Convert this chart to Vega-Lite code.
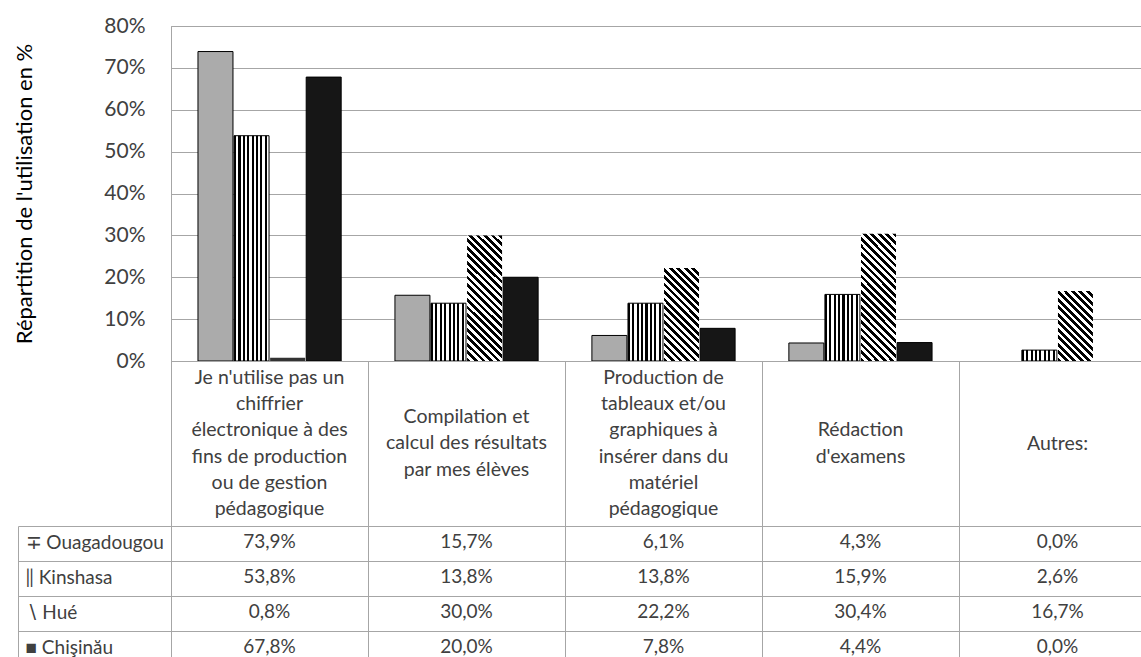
{
  "$schema": "https://vega.github.io/schema/vega-lite/v6.json",
  "background": "white",
  "padding": {"left": 13, "top": 14, "right": 0, "bottom": 0},
  "bounds": "flush",
  "spacing": 0,
  "config": {
    "locale": {"number": {"decimal": ",", "thousands": " ", "grouping": [3], "currency": ["", " €"]}},
    "font": "Lato",
    "view": {"stroke": "#a6a6a6", "strokeWidth": 1}
  },
  "datasets": {
    "vals": [
      {"cat": "Je n'utilise pas un\nchiffrier\nélectronique à des\nfins de production\nou de gestion\npédagogique", "city": "Ouagadougou", "v": 0.739},
      {"cat": "Je n'utilise pas un\nchiffrier\nélectronique à des\nfins de production\nou de gestion\npédagogique", "city": "Kinshasa", "v": 0.538},
      {"cat": "Je n'utilise pas un\nchiffrier\nélectronique à des\nfins de production\nou de gestion\npédagogique", "city": "Hué", "v": 0.008},
      {"cat": "Je n'utilise pas un\nchiffrier\nélectronique à des\nfins de production\nou de gestion\npédagogique", "city": "Chişinău", "v": 0.678},
      {"cat": "Compilation et\ncalcul des résultats\npar mes élèves", "city": "Ouagadougou", "v": 0.157},
      {"cat": "Compilation et\ncalcul des résultats\npar mes élèves", "city": "Kinshasa", "v": 0.138},
      {"cat": "Compilation et\ncalcul des résultats\npar mes élèves", "city": "Hué", "v": 0.300},
      {"cat": "Compilation et\ncalcul des résultats\npar mes élèves", "city": "Chişinău", "v": 0.200},
      {"cat": "Production de\ntableaux et/ou\ngraphiques à\ninsérer dans du\nmatériel\npédagogique", "city": "Ouagadougou", "v": 0.061},
      {"cat": "Production de\ntableaux et/ou\ngraphiques à\ninsérer dans du\nmatériel\npédagogique", "city": "Kinshasa", "v": 0.138},
      {"cat": "Production de\ntableaux et/ou\ngraphiques à\ninsérer dans du\nmatériel\npédagogique", "city": "Hué", "v": 0.222},
      {"cat": "Production de\ntableaux et/ou\ngraphiques à\ninsérer dans du\nmatériel\npédagogique", "city": "Chişinău", "v": 0.078},
      {"cat": "Rédaction\nd'examens", "city": "Ouagadougou", "v": 0.043},
      {"cat": "Rédaction\nd'examens", "city": "Kinshasa", "v": 0.159},
      {"cat": "Rédaction\nd'examens", "city": "Hué", "v": 0.304},
      {"cat": "Rédaction\nd'examens", "city": "Chişinău", "v": 0.044},
      {"cat": "Autres:", "city": "Ouagadougou", "v": 0.0},
      {"cat": "Autres:", "city": "Kinshasa", "v": 0.026},
      {"cat": "Autres:", "city": "Hué", "v": 0.167},
      {"cat": "Autres:", "city": "Chişinău", "v": 0.0}
    ]
  },
  "vconcat": [
    {
      "width": 985,
      "height": 335,
      "data": {"name": "vals"},
      "mark": {"type": "bar", "strokeWidth": 1},
      "encoding": {
        "x": {"field": "cat", "type": "nominal", "sort": null, "scale": {"paddingInner": 0.273, "paddingOuter": 0.137}, "axis": null},
        "xOffset": {"field": "city", "type": "nominal", "sort": ["Ouagadougou", "Kinshasa", "Hué", "Chişinău"], "scale": {"paddingInner": 0.03, "paddingOuter": 0}},
        "y": {
          "field": "v", "type": "quantitative",
          "scale": {"domain": [0, 0.8]},
          "axis": {
            "values": [0, 0.1, 0.2, 0.3, 0.4, 0.5, 0.6, 0.7, 0.8],
            "format": ".0%",
            "title": "Répartition de l'utilisation en %",
            "grid": true, "gridColor": "#a6a6a6", "gridWidth": 1,
            "domain": true, "domainColor": "#a6a6a6",
            "ticks": false,
            "labelPadding": 26, "labelFontSize": 21, "labelColor": "#404040",
            "titleFontSize": 22, "titleFontWeight": "normal", "titleColor": "#000000", "titlePadding": 67
          }
        },
        "fill": {
          "condition": [
            {"test": "datum.city === 'Hué' && datum.v >= 0.25", "value": {"gradient": "linear", "x1": 0, "y1": 1, "x2": 0.366, "y2": -0.322, "stops": [
              {"offset": 0, "color": "#000"}, {"offset": 0.0208, "color": "#000"}, {"offset": 0.0208, "color": "#fff"}, {"offset": 0.0417, "color": "#fff"},
              {"offset": 0.0417, "color": "#000"}, {"offset": 0.0625, "color": "#000"}, {"offset": 0.0625, "color": "#fff"}, {"offset": 0.0833, "color": "#fff"},
              {"offset": 0.0833, "color": "#000"}, {"offset": 0.1042, "color": "#000"}, {"offset": 0.1042, "color": "#fff"}, {"offset": 0.125, "color": "#fff"},
              {"offset": 0.125, "color": "#000"}, {"offset": 0.1458, "color": "#000"}, {"offset": 0.1458, "color": "#fff"}, {"offset": 0.1667, "color": "#fff"},
              {"offset": 0.1667, "color": "#000"}, {"offset": 0.1875, "color": "#000"}, {"offset": 0.1875, "color": "#fff"}, {"offset": 0.2083, "color": "#fff"},
              {"offset": 0.2083, "color": "#000"}, {"offset": 0.2292, "color": "#000"}, {"offset": 0.2292, "color": "#fff"}, {"offset": 0.25, "color": "#fff"},
              {"offset": 0.25, "color": "#000"}, {"offset": 0.2708, "color": "#000"}, {"offset": 0.2708, "color": "#fff"}, {"offset": 0.2917, "color": "#fff"},
              {"offset": 0.2917, "color": "#000"}, {"offset": 0.3125, "color": "#000"}, {"offset": 0.3125, "color": "#fff"}, {"offset": 0.3333, "color": "#fff"},
              {"offset": 0.3333, "color": "#000"}, {"offset": 0.3542, "color": "#000"}, {"offset": 0.3542, "color": "#fff"}, {"offset": 0.375, "color": "#fff"},
              {"offset": 0.375, "color": "#000"}, {"offset": 0.3958, "color": "#000"}, {"offset": 0.3958, "color": "#fff"}, {"offset": 0.4167, "color": "#fff"},
              {"offset": 0.4167, "color": "#000"}, {"offset": 0.4375, "color": "#000"}, {"offset": 0.4375, "color": "#fff"}, {"offset": 0.4583, "color": "#fff"},
              {"offset": 0.4583, "color": "#000"}, {"offset": 0.4792, "color": "#000"}, {"offset": 0.4792, "color": "#fff"}, {"offset": 0.5, "color": "#fff"},
              {"offset": 0.5, "color": "#000"}, {"offset": 0.5208, "color": "#000"}, {"offset": 0.5208, "color": "#fff"}, {"offset": 0.5417, "color": "#fff"},
              {"offset": 0.5417, "color": "#000"}, {"offset": 0.5625, "color": "#000"}, {"offset": 0.5625, "color": "#fff"}, {"offset": 0.5833, "color": "#fff"},
              {"offset": 0.5833, "color": "#000"}, {"offset": 0.6042, "color": "#000"}, {"offset": 0.6042, "color": "#fff"}, {"offset": 0.625, "color": "#fff"},
              {"offset": 0.625, "color": "#000"}, {"offset": 0.6458, "color": "#000"}, {"offset": 0.6458, "color": "#fff"}, {"offset": 0.6667, "color": "#fff"},
              {"offset": 0.6667, "color": "#000"}, {"offset": 0.6875, "color": "#000"}, {"offset": 0.6875, "color": "#fff"}, {"offset": 0.7083, "color": "#fff"},
              {"offset": 0.7083, "color": "#000"}, {"offset": 0.7292, "color": "#000"}, {"offset": 0.7292, "color": "#fff"}, {"offset": 0.75, "color": "#fff"},
              {"offset": 0.75, "color": "#000"}, {"offset": 0.7708, "color": "#000"}, {"offset": 0.7708, "color": "#fff"}, {"offset": 0.7917, "color": "#fff"},
              {"offset": 0.7917, "color": "#000"}, {"offset": 0.8125, "color": "#000"}, {"offset": 0.8125, "color": "#fff"}, {"offset": 0.8333, "color": "#fff"},
              {"offset": 0.8333, "color": "#000"}, {"offset": 0.8542, "color": "#000"}, {"offset": 0.8542, "color": "#fff"}, {"offset": 0.875, "color": "#fff"},
              {"offset": 0.875, "color": "#000"}, {"offset": 0.8958, "color": "#000"}, {"offset": 0.8958, "color": "#fff"}, {"offset": 0.9167, "color": "#fff"},
              {"offset": 0.9167, "color": "#000"}, {"offset": 0.9375, "color": "#000"}, {"offset": 0.9375, "color": "#fff"}, {"offset": 1, "color": "#fff"}
            ]}},
            {"test": "datum.city === 'Hué' && datum.v >= 0.2", "value": {"gradient": "linear", "x1": 0, "y1": 1, "x2": 0.638, "y2": -0.695, "stops": [
              {"offset": 0, "color": "#000"}, {"offset": 0.0208, "color": "#000"}, {"offset": 0.0208, "color": "#fff"}, {"offset": 0.0417, "color": "#fff"},
              {"offset": 0.0417, "color": "#000"}, {"offset": 0.0625, "color": "#000"}, {"offset": 0.0625, "color": "#fff"}, {"offset": 0.0833, "color": "#fff"},
              {"offset": 0.0833, "color": "#000"}, {"offset": 0.1042, "color": "#000"}, {"offset": 0.1042, "color": "#fff"}, {"offset": 0.125, "color": "#fff"},
              {"offset": 0.125, "color": "#000"}, {"offset": 0.1458, "color": "#000"}, {"offset": 0.1458, "color": "#fff"}, {"offset": 0.1667, "color": "#fff"},
              {"offset": 0.1667, "color": "#000"}, {"offset": 0.1875, "color": "#000"}, {"offset": 0.1875, "color": "#fff"}, {"offset": 0.2083, "color": "#fff"},
              {"offset": 0.2083, "color": "#000"}, {"offset": 0.2292, "color": "#000"}, {"offset": 0.2292, "color": "#fff"}, {"offset": 0.25, "color": "#fff"},
              {"offset": 0.25, "color": "#000"}, {"offset": 0.2708, "color": "#000"}, {"offset": 0.2708, "color": "#fff"}, {"offset": 0.2917, "color": "#fff"},
              {"offset": 0.2917, "color": "#000"}, {"offset": 0.3125, "color": "#000"}, {"offset": 0.3125, "color": "#fff"}, {"offset": 0.3333, "color": "#fff"},
              {"offset": 0.3333, "color": "#000"}, {"offset": 0.3542, "color": "#000"}, {"offset": 0.3542, "color": "#fff"}, {"offset": 0.375, "color": "#fff"},
              {"offset": 0.375, "color": "#000"}, {"offset": 0.3958, "color": "#000"}, {"offset": 0.3958, "color": "#fff"}, {"offset": 0.4167, "color": "#fff"},
              {"offset": 0.4167, "color": "#000"}, {"offset": 0.4375, "color": "#000"}, {"offset": 0.4375, "color": "#fff"}, {"offset": 0.4583, "color": "#fff"},
              {"offset": 0.4583, "color": "#000"}, {"offset": 0.4792, "color": "#000"}, {"offset": 0.4792, "color": "#fff"}, {"offset": 0.5, "color": "#fff"},
              {"offset": 0.5, "color": "#000"}, {"offset": 0.5208, "color": "#000"}, {"offset": 0.5208, "color": "#fff"}, {"offset": 0.5417, "color": "#fff"},
              {"offset": 0.5417, "color": "#000"}, {"offset": 0.5625, "color": "#000"}, {"offset": 0.5625, "color": "#fff"}, {"offset": 0.5833, "color": "#fff"},
              {"offset": 0.5833, "color": "#000"}, {"offset": 0.6042, "color": "#000"}, {"offset": 0.6042, "color": "#fff"}, {"offset": 0.625, "color": "#fff"},
              {"offset": 0.625, "color": "#000"}, {"offset": 0.6458, "color": "#000"}, {"offset": 0.6458, "color": "#fff"}, {"offset": 0.6667, "color": "#fff"},
              {"offset": 0.6667, "color": "#000"}, {"offset": 0.6875, "color": "#000"}, {"offset": 0.6875, "color": "#fff"}, {"offset": 0.7083, "color": "#fff"},
              {"offset": 0.7083, "color": "#000"}, {"offset": 0.7292, "color": "#000"}, {"offset": 0.7292, "color": "#fff"}, {"offset": 1, "color": "#fff"}
            ]}},
            {"test": "datum.city === 'Hué' && datum.v >= 0.1", "value": {"gradient": "linear", "x1": 0, "y1": 1, "x2": 1.031, "y2": -1.059, "stops": [
              {"offset": 0, "color": "#000"}, {"offset": 0.0208, "color": "#000"}, {"offset": 0.0208, "color": "#fff"}, {"offset": 0.0417, "color": "#fff"},
              {"offset": 0.0417, "color": "#000"}, {"offset": 0.0625, "color": "#000"}, {"offset": 0.0625, "color": "#fff"}, {"offset": 0.0833, "color": "#fff"},
              {"offset": 0.0833, "color": "#000"}, {"offset": 0.1042, "color": "#000"}, {"offset": 0.1042, "color": "#fff"}, {"offset": 0.125, "color": "#fff"},
              {"offset": 0.125, "color": "#000"}, {"offset": 0.1458, "color": "#000"}, {"offset": 0.1458, "color": "#fff"}, {"offset": 0.1667, "color": "#fff"},
              {"offset": 0.1667, "color": "#000"}, {"offset": 0.1875, "color": "#000"}, {"offset": 0.1875, "color": "#fff"}, {"offset": 0.2083, "color": "#fff"},
              {"offset": 0.2083, "color": "#000"}, {"offset": 0.2292, "color": "#000"}, {"offset": 0.2292, "color": "#fff"}, {"offset": 0.25, "color": "#fff"},
              {"offset": 0.25, "color": "#000"}, {"offset": 0.2708, "color": "#000"}, {"offset": 0.2708, "color": "#fff"}, {"offset": 0.2917, "color": "#fff"},
              {"offset": 0.2917, "color": "#000"}, {"offset": 0.3125, "color": "#000"}, {"offset": 0.3125, "color": "#fff"}, {"offset": 0.3333, "color": "#fff"},
              {"offset": 0.3333, "color": "#000"}, {"offset": 0.3542, "color": "#000"}, {"offset": 0.3542, "color": "#fff"}, {"offset": 0.375, "color": "#fff"},
              {"offset": 0.375, "color": "#000"}, {"offset": 0.3958, "color": "#000"}, {"offset": 0.3958, "color": "#fff"}, {"offset": 0.4167, "color": "#fff"},
              {"offset": 0.4167, "color": "#000"}, {"offset": 0.4375, "color": "#000"}, {"offset": 0.4375, "color": "#fff"}, {"offset": 0.4583, "color": "#fff"},
              {"offset": 0.4583, "color": "#000"}, {"offset": 0.4792, "color": "#000"}, {"offset": 0.4792, "color": "#fff"}, {"offset": 0.5, "color": "#fff"},
              {"offset": 0.5, "color": "#000"}, {"offset": 0.5208, "color": "#000"}, {"offset": 0.5208, "color": "#fff"}, {"offset": 0.5417, "color": "#fff"},
              {"offset": 0.5417, "color": "#000"}, {"offset": 0.5625, "color": "#000"}, {"offset": 0.5625, "color": "#fff"}, {"offset": 0.5833, "color": "#fff"},
              {"offset": 0.5833, "color": "#000"}, {"offset": 0.6042, "color": "#000"}, {"offset": 0.6042, "color": "#fff"}, {"offset": 1, "color": "#fff"}
            ]}},
            {"test": "datum.city === 'Hué'", "value": "#333333"},
            {"test": "datum.city === 'Kinshasa'", "value": {"gradient": "linear", "x1": 0, "y1": 0, "x2": 1, "y2": 0, "stops": [
              {"offset": 0, "color": "#000"}, {"offset": 0.06, "color": "#000"}, {"offset": 0.06, "color": "#fff"}, {"offset": 0.125, "color": "#fff"},
              {"offset": 0.125, "color": "#000"}, {"offset": 0.185, "color": "#000"}, {"offset": 0.185, "color": "#fff"}, {"offset": 0.25, "color": "#fff"},
              {"offset": 0.25, "color": "#000"}, {"offset": 0.31, "color": "#000"}, {"offset": 0.31, "color": "#fff"}, {"offset": 0.375, "color": "#fff"},
              {"offset": 0.375, "color": "#000"}, {"offset": 0.435, "color": "#000"}, {"offset": 0.435, "color": "#fff"}, {"offset": 0.5, "color": "#fff"},
              {"offset": 0.5, "color": "#000"}, {"offset": 0.56, "color": "#000"}, {"offset": 0.56, "color": "#fff"}, {"offset": 0.625, "color": "#fff"},
              {"offset": 0.625, "color": "#000"}, {"offset": 0.685, "color": "#000"}, {"offset": 0.685, "color": "#fff"}, {"offset": 0.75, "color": "#fff"},
              {"offset": 0.75, "color": "#000"}, {"offset": 0.81, "color": "#000"}, {"offset": 0.81, "color": "#fff"}, {"offset": 0.875, "color": "#fff"},
              {"offset": 0.875, "color": "#000"}, {"offset": 0.935, "color": "#000"}, {"offset": 0.935, "color": "#fff"}, {"offset": 1, "color": "#fff"}
            ]}},
            {"test": "datum.city === 'Chişinău'", "value": "#161616"}
          ],
          "value": "#ababab"
        },
        "stroke": {
          "condition": {"test": "datum.city === 'Hué' || datum.v === 0", "value": null},
          "value": "#000000"
        }
      }
    },
    {
      "width": 985,
      "height": 165,
      "data": {"name": "vals"},
      "transform": [
        {"filter": "datum.city === 'Ouagadougou'"},
        {"calculate": "length(split(datum.cat, '\\n'))", "as": "lines"}
      ],
      "mark": {"type": "text", "lineBreak": "\n", "fontSize": 19.5, "lineHeight": 26.2, "color": "#404040", "baseline": "middle", "align": "center"},
      "encoding": {
        "x": {"field": "cat", "type": "nominal", "sort": null, "scale": {"paddingInner": 0, "paddingOuter": 0},
          "axis": {"title": null, "labels": false, "ticks": false, "domain": false, "grid": true, "gridColor": "#a6a6a6", "tickBand": "extent"}},
        "y": {"field": "lines", "type": "quantitative", "scale": {"domain": [-5.3, 7.3], "zero": false, "nice": false}, "axis": null},
        "text": {"field": "cat", "type": "nominal"}
      }
    },
    {
      "width": 985,
      "height": 140,
      "data": {"name": "vals"},
      "mark": {"type": "text", "fontSize": 19, "color": "#404040", "baseline": "middle", "align": "center", "dy": -1.5},
      "encoding": {
        "x": {"field": "cat", "type": "nominal", "sort": null, "scale": {"paddingInner": 0, "paddingOuter": 0},
          "axis": {"title": null, "labels": false, "ticks": false, "domain": false, "grid": true, "gridColor": "#a6a6a6", "tickBand": "extent"}},
        "y": {"field": "city", "type": "nominal", "sort": ["Ouagadougou", "Kinshasa", "Hué", "Chişinău"], "scale": {"paddingInner": 0, "paddingOuter": 0},
          "axis": {
            "title": null, "offset": 153, "tickSize": -153, "tickColor": "#a6a6a6", "tickBand": "extent",
            "grid": true, "gridColor": "#a6a6a6", "domainColor": "#a6a6a6",
            "labelAlign": "left", "labelPadding": 146, "labelFontSize": 19, "labelColor": "#404040", "labelOffset": -1.5,
            "labelExpr": "datum.value === 'Ouagadougou' ? '∓ Ouagadougou' : datum.value === 'Kinshasa' ? '‖ Kinshasa' : datum.value === 'Hué' ? '∖ Hué' : datum.value === 'Chişinău' ? '■ Chişinău' : ''"
          }},
        "text": {"field": "v", "type": "quantitative", "format": ".1%"}
      }
    }
  ]
}
